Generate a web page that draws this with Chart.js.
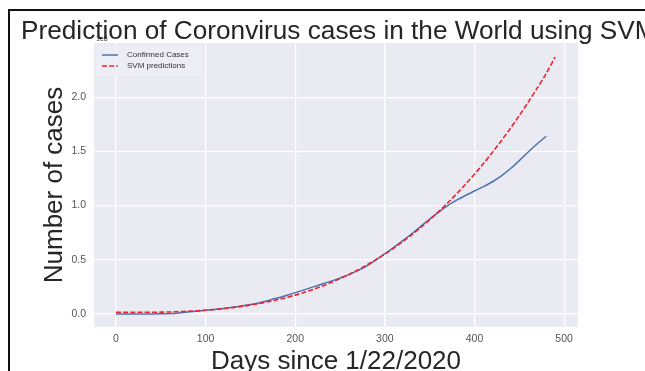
<!DOCTYPE html>
<html>
<head>
<meta charset="utf-8">
<script src="https://cdn.jsdelivr.net/npm/chart.js@4"></script>
<style>
  html, body { margin: 0; padding: 0; background: #fff; }
  #wrap { position: relative; width: 645px; height: 371px; overflow: hidden; }
  #c { position: absolute; left: 0; top: 0; }
  #frame { position: absolute; left: 8px; top: 9px; width: 700px; height: 400px;
           border-top: 2px solid #111; border-left: 2px solid #111; pointer-events: none; }
</style>
</head>
<body>
<div id="wrap">
  <canvas id="c" width="645" height="371"></canvas>
  <div id="frame"></div>
</div>
<script>
// Days since 1/22/2020
const confirmedDays = [0,10,20,30,40,50,60,70,80,90,100,110,120,130,140,150,160,170,180,190,
  200,210,220,230,240,250,260,270,280,290,300,310,320,330,340,350,360,370,380,390,
  400,410,420,430,440,450,460,470,480];
// Cumulative confirmed cases worldwide (x 1e8)
const confirmedCases = [0.0000,0.0001,0.0004,0.0008,0.0009,0.0013,0.0034,0.0093,0.0177,0.0255,
  0.0335,0.0419,0.0514,0.0620,0.0733,0.0874,0.1045,0.1247,0.1467,0.1713,
  0.1969,0.2227,0.2500,0.2760,0.3033,0.3330,0.3636,0.3996,0.4440,0.4980,
  0.5560,0.6150,0.6760,0.7400,0.8090,0.8750,0.9400,1.0000,1.0500,1.0930,
  1.1350,1.1750,1.2200,1.2750,1.3400,1.4150,1.4950,1.5700,1.6400];

const predictionDays = [0,10,20,30,40,50,60,70,80,90,100,110,120,130,140,150,160,170,180,190,
  200,210,220,230,240,250,260,270,280,290,300,310,320,330,340,350,360,370,380,390,
  400,410,420,430,440,450,460,470,480,490];
// SVM regression output (x 1e8)
const svmPredictions = [0.015,0.015,0.015,0.016,0.016,0.017,0.019,0.022,0.025,0.029,
  0.035,0.042,0.049,0.059,0.070,0.082,0.097,0.113,0.131,0.152,
  0.174,0.200,0.227,0.257,0.290,0.326,0.365,0.407,0.452,0.501,
  0.553,0.609,0.668,0.731,0.798,0.869,0.945,1.024,1.108,1.197,
  1.290,1.388,1.491,1.599,1.712,1.831,1.955,2.084,2.219,2.370];

const xTicks = [0,100,200,300,400,500];
const yTicks = [0.0,0.5,1.0,1.5,2.0];

const titleText = 'Prediction of Coronvirus cases in the World using SVM';
const xTitle = 'Days since 1/22/2020';
const yTitle = 'Number of cases';
const offsetText = '1e8';
const seriesNames = ['Confirmed Cases', 'SVM predictions'];

const FONT = '"Liberation Sans", Arial, sans-serif';
const BLUE = '#4C72B0';
const RED = '#EA2330';

const decorations = {
  id: 'decorations',
  beforeDraw(chart) {
    const { ctx, chartArea: a } = chart;
    ctx.save();
    ctx.fillStyle = '#EAEAF2';
    ctx.fillRect(a.left, a.top, a.right - a.left, a.bottom - a.top);
    ctx.restore();
  },
  afterDatasetsDraw(chart) {
    const { ctx, chartArea: a } = chart;
    ctx.save();
    // legend
    const lx = a.left + 2, ly = a.top + 3;
    ctx.fillStyle = 'rgba(238,238,245,0.8)';
    ctx.fillRect(lx, ly, 107, 30);
    const rows = [{ c: BLUE, dash: [] }, { c: RED, dash: [5, 2.2] }];
    rows.forEach((r, i) => {
      const y = a.top + 12 + i * 11;
      ctx.strokeStyle = r.c;
      ctx.lineWidth = 1.5;
      ctx.setLineDash(r.dash);
      ctx.beginPath();
      ctx.moveTo(a.left + 8, y);
      ctx.lineTo(a.left + 24, y);
      ctx.stroke();
      ctx.setLineDash([]);
      ctx.fillStyle = '#333';
      ctx.font = '8px ' + FONT;
      ctx.textBaseline = 'middle';
      ctx.textAlign = 'left';
      ctx.fillText(seriesNames[i], a.left + 33, y);
    });
    // scale multiplier
    ctx.fillStyle = '#444';
    ctx.font = '7px ' + FONT;
    ctx.textBaseline = 'alphabetic';
    ctx.fillText(offsetText, a.left + 2, a.top - 2);
    // chart title
    ctx.fillStyle = '#262626';
    ctx.font = '26.2px ' + FONT;
    ctx.textAlign = 'left';
    ctx.fillText(titleText, 21, 38.5);
    // axis titles
    ctx.textAlign = 'center';
    ctx.font = '26px ' + FONT;
    ctx.fillText(xTitle, (a.left + a.right) / 2, 368.5);
    ctx.translate(62, (a.top + a.bottom) / 2);
    ctx.rotate(-Math.PI / 2);
    ctx.fillText(yTitle, 0, 0);
    ctx.restore();
  }
};

new Chart(document.getElementById('c'), {
  type: 'line',
  data: {
    datasets: [
      {
        label: seriesNames[1],
        data: predictionDays.map((d, i) => ({ x: d, y: svmPredictions[i] })),
        borderColor: RED,
        borderWidth: 1.6,
        borderDash: [5, 2.2],
        pointRadius: 0,
        tension: 0.3,
        fill: false,
        order: 0
      },
      {
        label: seriesNames[0],
        data: confirmedDays.map((d, i) => ({ x: d, y: confirmedCases[i] })),
        borderColor: BLUE,
        borderWidth: 1.5,
        pointRadius: 0,
        cubicInterpolationMode: 'monotone',
        fill: false,
        order: 1
      }
    ]
  },
  options: {
    responsive: false,
    animation: false,
    devicePixelRatio: 1,
    layout: { padding: { left: 0, top: 43, right: 67, bottom: 0 } },
    plugins: { legend: { display: false }, title: { display: false }, tooltip: { enabled: false } },
    scales: {
      x: {
        type: 'linear',
        min: -24.5,
        max: 515.5,
        afterBuildTicks: s => { s.ticks = xTicks.map(v => ({ value: v })); },
        afterFit: s => { s.height = 44; },
        grid: { color: '#FFFFFF', lineWidth: 1.2, drawTicks: false },
        border: { display: false },
        ticks: { color: '#555', font: { family: FONT, size: 10.5 }, padding: 6,
                 callback: v => String(v) }
      },
      y: {
        type: 'linear',
        min: -0.12,
        max: 2.5,
        afterBuildTicks: s => { s.ticks = yTicks.map(v => ({ value: v })); },
        afterFit: s => { s.width = 94; },
        grid: { color: '#FFFFFF', lineWidth: 1.2, drawTicks: false },
        border: { display: false },
        ticks: { color: '#555', font: { family: FONT, size: 10.5 }, padding: 8,
                 callback: v => Number(v).toFixed(1) }
      }
    }
  },
  plugins: [decorations]
});
</script>
</body>
</html>
